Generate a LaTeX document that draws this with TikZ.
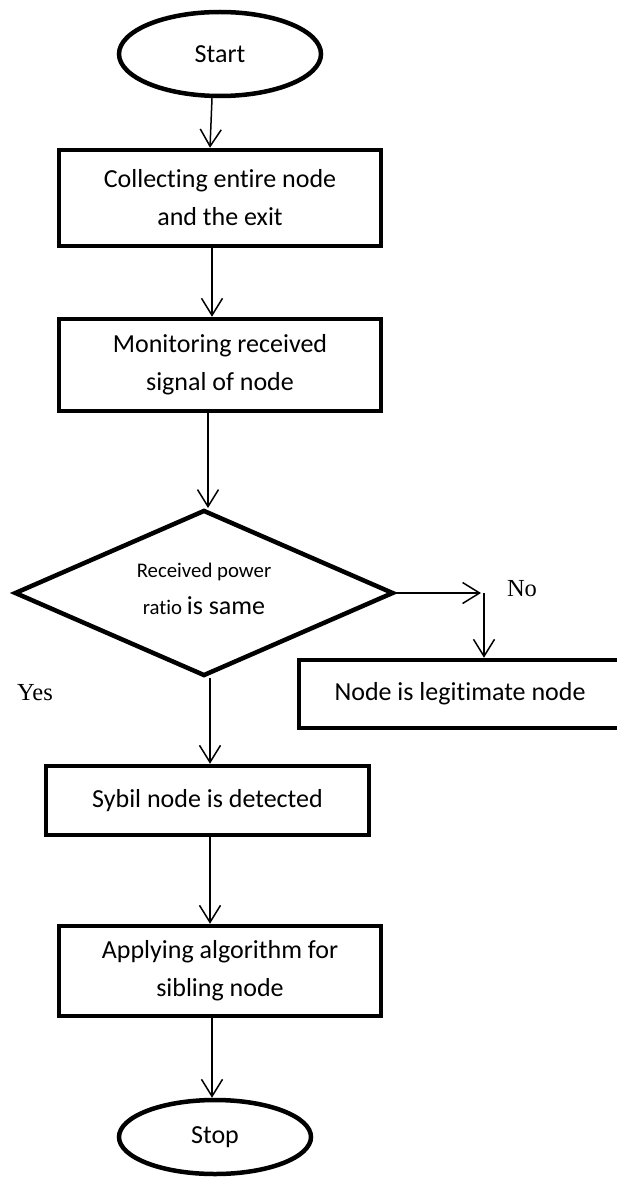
\documentclass[tikz,border=0pt]{standalone}
\usepackage{fontspec}
\setmainfont{Carlito}[Ligatures={NoCommon}]
\newfontfamily\timesfont{Liberation Serif}
\usetikzlibrary{shapes.geometric,arrows.meta}
\tikzset{
  flowbox/.style={draw, line width=4.5pt, rectangle, align=center, inner sep=0pt,
    font=\fontsize{26}{38}\selectfont},
  term/.style={draw, line width=4.5pt, ellipse, inner sep=0pt,
    font=\fontsize{26}{38}\selectfont},
  decide/.style={draw, line width=4.5pt, diamond, inner sep=0pt, align=center},
  conn/.style={line width=1.5pt, -{Straight Barb[length=17pt,width=21pt,line width=1.5pt]}},
  lbl/.style={font=\timesfont\fontsize{24.5}{28}\selectfont, inner sep=0pt}
}
\begin{document}
\begin{tikzpicture}[x=1pt,y=-1pt]
\useasboundingbox (0,0) rectangle (616,1177);
\node[term, minimum width=202pt, minimum height=84pt] (start) at (220,54) {Start};
\node[flowbox, minimum width=322pt, minimum height=96pt] (box1) at (220,198) {Collecting entire node\\and the exit};
\node[flowbox, minimum width=322pt, minimum height=92pt] (box2) at (220,365) {Monitoring received\\signal of node};
\node[decide, minimum width=379pt, minimum height=166pt] (dia) at (204,593) {};
\node[font=\fontsize{20.8}{24}\selectfont, inner sep=0pt] (dt1) at (204,572) {Received power};
\node[inner sep=0pt, anchor=base] (dt2) at (204,614) {\fontsize{20.8}{24}\selectfont ratio \fontsize{26}{30}\selectfont is same};
\node[flowbox, minimum width=322pt, minimum height=68pt] (legit) at (460,694) {Node is legitimate node};
\node[flowbox, minimum width=323pt, minimum height=69pt] (sybil) at (207.5,800.5) {\raisebox{5pt}{Sybil node is detected}};
\node[flowbox, minimum width=322pt, minimum height=90pt] (apply) at (220,971) {Applying algorithm for\\sibling node};
\node[term, minimum width=192pt, minimum height=74pt] (stop) at (215,1137) {Stop};
\node[lbl] (no) at (522,589) {No};
\node[lbl] (yes) at (35,693) {Yes};
\coordinate (notip) at (481,593);
\coordinate (nocorner) at (484,593);
\coordinate (diatop) at (208,508);
\draw[conn] ([xshift=-8pt]start.south) -- ([xshift=-10pt]box1.north);
\draw[conn] ([xshift=-8pt]box1.south) -- ([xshift=-8pt]box2.north);
\draw[conn] (box2.south -| diatop) -- (diatop);
\draw[conn] ([xshift=6pt]dia.south) -- ([xshift=2.5pt]sybil.north);
\draw[conn] ([xshift=2.5pt]sybil.south) -- ([xshift=-10pt]apply.north);
\draw[conn] ([xshift=-8pt]apply.south) -- ([xshift=-3pt]stop.north);
\draw[conn] (dia.east) -- (notip);
\draw[conn] (nocorner) -- (legit.north -| nocorner);
\end{tikzpicture}
\end{document}
